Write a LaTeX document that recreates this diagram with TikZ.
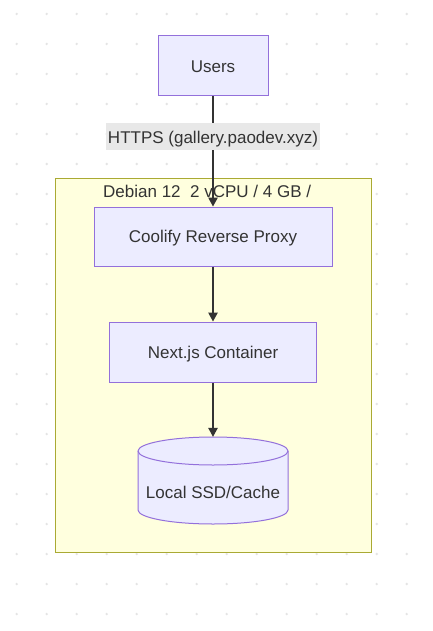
\documentclass[tikz,border=0pt]{standalone}
\usepackage{fontspec}
\setmainfont{Liberation Sans}
\usetikzlibrary{arrows.meta}
\definecolor{nodefill}{HTML}{ECECFF}
\definecolor{nodeline}{HTML}{9370DB}
\definecolor{clusterfill}{HTML}{FFFFDE}
\definecolor{clusterline}{HTML}{AAAA33}
\definecolor{edgecol}{HTML}{333333}
\definecolor{txt}{HTML}{333333}
\definecolor{lblbg}{HTML}{E8E8E8}
\definecolor{dotcol}{HTML}{E4E4E4}
\tikzset{
  every node/.style={font=\fontsize{17}{20}\selectfont, text=txt},
  box/.style={draw=nodeline, fill=nodefill, line width=1pt, inner sep=0pt,
    text height=12.2pt, text depth=0pt},
  edge/.style={draw=edgecol, line width=1.2pt, -{Triangle[length=9pt,width=9.5pt]}},
  lbl/.style={fill=lblbg, inner sep=0pt, text height=12.2pt, text depth=0pt,
    minimum width=214pt, minimum height=27pt},
}
\begin{document}
\begin{tikzpicture}[x=1pt,y=-1pt]
\useasboundingbox (0,0) rectangle (433,631);
\fill[white] (0,0) rectangle (433,631);
% dot grid
\foreach \i in {0,...,13}{
  \foreach \j in {0,...,20}{
    \fill[dotcol] (16.7+30*\i, 14+30*\j) circle (1.3);
  }
}
% cluster
\draw[clusterline, fill=clusterfill, line width=1pt] (55.5,178.5) rectangle (371,552);
\node[anchor=base west, inner sep=0pt] (ctitle) at (103,197) {Debian 12~~2 vCPU / 4 GB /};
% nodes
\node[box, minimum width=110pt, minimum height=60pt] (users) at (213,66) {Users};
\node[box, minimum width=238pt, minimum height=59pt] (coolify) at (213,236.5) {Coolify Reverse Proxy};
\node[box, minimum width=207pt, minimum height=60pt] (next) at (213,352) {Next.js Container};
% cylinder
\node[minimum width=150pt, minimum height=87pt, inner sep=0pt] (ssd) at (213,480.5) {};
\draw[nodeline, fill=nodefill, line width=1pt]
  (138,451) -- (138,510) arc[start angle=180, end angle=0, x radius=75, y radius=14]
  -- (288,451) arc[start angle=0, end angle=-180, x radius=75, y radius=14] -- cycle;
\draw[nodeline, line width=1pt] (138,451) arc[start angle=180, end angle=0, x radius=75, y radius=14];
\node[inner sep=0pt, text height=12.2pt, text depth=0pt] (ssdtext) at (213,492) {Local SSD/Cache};
% edges
\draw[edge] (users) -- (coolify);
\draw[edge] (coolify) -- (next);
\draw[edge] (next) -- (ssd.north);
\node[lbl] (httplbl) at (213,137) {HTTPS (gallery.paodev.xyz)};
\end{tikzpicture}
\end{document}
